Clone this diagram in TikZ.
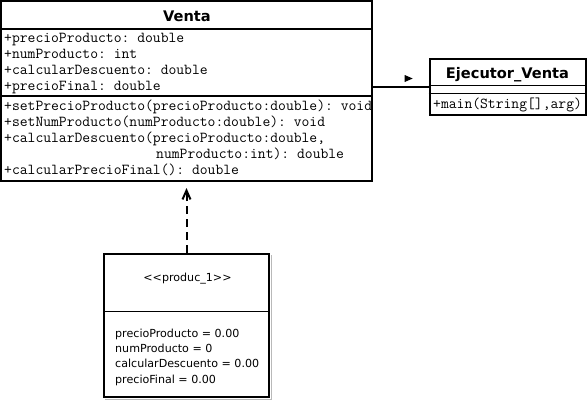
\documentclass[tikz,border=0pt]{standalone}
\usepackage{fontspec}
\setmainfont{DejaVu Sans}
\setmonofont{Latin Modern Mono}
\usetikzlibrary{arrows.meta,shapes.geometric}
\begin{document}
\begin{tikzpicture}[x=1pt,y=-1pt,
  box/.style={draw,line width=2pt,inner sep=0pt,rectangle},
  sep/.style={line width=1.8pt},
  mono/.style={anchor=base west,inner sep=0pt,font=\ttfamily\fontsize{15.2}{16}\selectfont},
  ttl/.style={anchor=base,inner sep=0pt,font=\bfseries\fontsize{14.6}{17}\selectfont},
  plain/.style={anchor=base west,inner sep=0pt,font=\fontsize{11.1}{14}\selectfont},
  dep/.style={line width=2pt,dash pattern=on 8pt off 5pt,-{Straight Barb[length=9pt,width=8pt]},shorten >=6pt},
]
\useasboundingbox (0,0) rectangle (587,400);
% Venta
\node[box,minimum width=371pt,minimum height=180pt] (venta) at (186.5,91) {};
\draw[sep] (venta.west |- 0,29) -- (venta.east |- 0,29);
\draw[sep] (venta.west |- 0,96) -- (venta.east |- 0,96);
\node[ttl] (vtitle) at (187,21) {Venta};
\node[mono] (va1) at (4,42) {+precioProducto: double};
\node[mono] (va2) at (4,58) {+numProducto: int};
\node[mono] (va3) at (4,74) {+calcularDescuento: double};
\node[mono] (va4) at (4,90) {+precioFinal: double};
\node[mono] (vm1) at (4,110) {+setPrecioProducto(precioProducto:double): void};
\node[mono] (vm2) at (4,126) {+setNumProducto(numProducto:double): void};
\node[mono] (vm3) at (4,142) {+calcularDescuento(precioProducto:double,};
\node[mono] (vm3b) at (156,158) {numProducto:int): double};
\node[mono] (vm4) at (4,174) {+calcularPrecioFinal(): double};
% Ejecutor_Venta
\node[box,minimum width=156pt,minimum height=56pt] (ejec) at (507.5,86.5) {};
\draw[sep] (ejec.west |- 0,85.5) -- (ejec.east |- 0,85.5);
\draw[sep] (ejec.west |- 0,93.5) -- (ejec.east |- 0,93.5);
\node[ttl] (etitle) at (507.5,78) {Ejecutor\_Venta};
\node[mono] (em1) at (433,108) {+main(String[],arg)};
% association
\draw[line width=2pt] (venta.east |- ejec.west) -- (ejec.west);
\node[isosceles triangle,fill=black,inner sep=0pt,minimum height=8pt,minimum width=7pt,isosceles triangle stretches] (nav) at (407,78.5) {};
% produc_1
\node[box,minimum width=165pt,minimum height=143pt] (produc) at (186.5,325.5) {};
\draw[gray!55,line width=1.2pt] ([xshift=1.8pt,yshift=-2pt]produc.north east) -- ([xshift=1.8pt,yshift=-1.8pt]produc.south east) -- ([xshift=2pt,yshift=-1.8pt]produc.south west);
\draw[sep] (produc.west |- 0,311.5) -- (produc.east |- 0,311.5);
\node[anchor=base,inner sep=0pt,font=\fontsize{11.1}{14}\selectfont] (ster) at (187.5,281) {\textless{}\textless{}produc\_1\textgreater{}\textgreater{}};
\node[plain] (p1) at (115,337) {precioProducto = 0.00};
\node[plain] (p2) at (115,352.3) {numProducto = 0};
\node[plain] (p3) at (115,367.6) {calcularDescuento = 0.00};
\node[plain] (p4) at (115,383) {precioFinal = 0.00};
% dependency
\draw[dep] (produc.north) -- (venta.south);
\end{tikzpicture}
\end{document}
